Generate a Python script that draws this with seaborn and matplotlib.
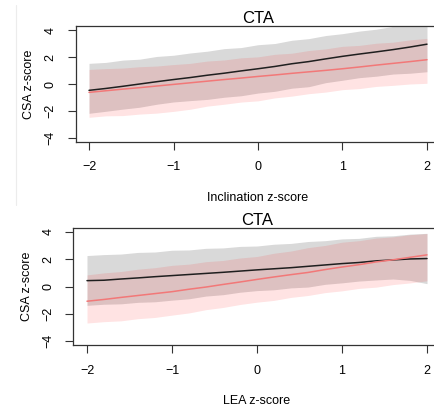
import numpy as np
import matplotlib
matplotlib.use("Agg")
import matplotlib.pyplot as plt
from matplotlib.lines import Line2D
import seaborn as sns

sns.set_style("white")
plt.rcParams['font.family'] = ['Liberation Sans', 'DejaVu Sans']
plt.rcParams['text.color'] = 'black'
plt.rcParams['axes.labelcolor'] = 'black'
plt.rcParams['xtick.color'] = 'black'
plt.rcParams['ytick.color'] = 'black'

# z-score grid
x_vals = [-2.0, -1.8, -1.6, -1.4, -1.2, -1.0, -0.8, -0.6, -0.4, -0.2, 0.0,
          0.2, 0.4, 0.6, 0.8, 1.0, 1.2, 1.4, 1.6, 1.8, 2.0]

# panel 1 : Inclination
incl_black = [-0.47, -0.33, -0.17, 0.00, 0.17, 0.33, 0.48, 0.65, 0.80, 0.97, 1.13,
              1.30, 1.50, 1.66, 1.86, 2.05, 2.22, 2.38, 2.55, 2.74, 2.95]
incl_red = [-0.62, -0.50, -0.38, -0.27, -0.15, -0.03, 0.09, 0.21, 0.33, 0.44, 0.56,
            0.67, 0.79, 0.90, 1.01, 1.13, 1.26, 1.40, 1.53, 1.66, 1.80]
incl_gray_hi = [1.53, 1.60, 1.77, 1.84, 2.04, 2.13, 2.30, 2.43, 2.62, 2.70, 2.91,
                3.00, 3.24, 3.36, 3.59, 3.73, 3.92, 4.06, 4.27, 4.38, 4.52]
incl_gray_lo = [-2.17, -2.02, -1.86, -1.72, -1.50, -1.33, -1.23, -1.14, -0.98, -0.87, -0.67,
                -0.54, -0.31, -0.20, 0.10, 0.28, 0.47, 0.58, 0.74, 0.80, 0.91]
incl_red_hi = [1.08, 1.14, 1.18, 1.28, 1.33, 1.44, 1.53, 1.70, 1.78, 1.94, 2.01,
               2.20, 2.28, 2.48, 2.60, 2.79, 2.86, 3.02, 3.10, 3.27, 3.38]
incl_red_lo = [-2.47, -2.36, -2.34, -2.23, -2.16, -2.03, -1.87, -1.64, -1.50, -1.34, -1.25,
               -1.03, -0.90, -0.72, -0.60, -0.42, -0.34, -0.18, -0.10, 0.00, 0.05]

# panel 2 : LEA
lea_black = [0.43, 0.46, 0.55, 0.63, 0.72, 0.80, 0.88, 0.96, 1.04, 1.13, 1.22,
             1.30, 1.38, 1.48, 1.58, 1.68, 1.76, 1.88, 1.95, 2.02, 2.05]
lea_red = [-1.08, -0.95, -0.80, -0.66, -0.52, -0.38, -0.20, -0.04, 0.15, 0.33, 0.52,
           0.70, 0.87, 1.03, 1.24, 1.43, 1.60, 1.80, 1.96, 2.14, 2.32]
lea_gray_hi = [2.27, 2.34, 2.38, 2.50, 2.53, 2.66, 2.68, 2.80, 2.83, 2.94, 2.97,
               3.10, 3.16, 3.30, 3.36, 3.49, 3.53, 3.68, 3.72, 3.84, 3.90]
lea_gray_lo = [-1.38, -1.30, -1.27, -1.16, -1.12, -1.00, -0.90, -0.70, -0.60, -0.42, -0.30,
               -0.24, -0.10, -0.04, 0.16, 0.27, 0.40, 0.48, 0.55, 0.45, 0.21]
lea_red_hi = [0.85, 1.00, 1.10, 1.27, 1.38, 1.55, 1.64, 1.82, 1.91, 2.09, 2.20,
              2.44, 2.60, 2.85, 3.01, 3.25, 3.36, 3.55, 3.64, 3.80, 3.88]
lea_red_lo = [-2.68, -2.58, -2.52, -2.36, -2.27, -2.10, -1.94, -1.70, -1.54, -1.32, -1.15,
              -1.02, -0.80, -0.66, -0.45, -0.32, -0.14, -0.05, 0.14, 0.26, 0.42]

panels = [
    ("Inclination z-score", incl_black, incl_red, incl_gray_lo, incl_gray_hi, incl_red_lo, incl_red_hi,
     [75.5 / 434, 1 - 142.3 / 408, 365 / 434, 116.6 / 408]),
    ("LEA z-score", lea_black, lea_red, lea_gray_lo, lea_gray_hi, lea_red_lo, lea_red_hi,
     [73.4 / 434, 1 - 345.4 / 408, 367.2 / 434, 117.8 / 408]),
]

fig = plt.figure(figsize=(4.34, 4.08), dpi=100)

for xlab, blk, red, glo, ghi, rlo, rhi, pos in panels:
    ax = fig.add_axes(pos)
    ax.fill_between(x_vals, glo, ghi, color='#d9d9d9', linewidth=0)
    ax.fill_between(x_vals, rlo, rhi, color='#ff0000', alpha=0.11, linewidth=0)
    sns.lineplot(x=x_vals, y=blk, color='#1f1f1f', linewidth=1.1, ax=ax)
    sns.lineplot(x=x_vals, y=red, color='#f27878', linewidth=1.1, ax=ax)
    ax.set_xlim(-2.16, 2.16)
    ax.set_ylim(-4.32, 4.32)
    ax.set_xticks([-2, -1, 0, 1, 2])
    ax.set_yticks([-4, -2, 0, 2, 4])
    ax.tick_params(direction='out', length=5.8, width=0.8, color='#333333',
                   labelsize=9, pad=8, left=True, bottom=True)
    ax.tick_params(axis='y', pad=8)
    for lab in ax.get_yticklabels():
        lab.set_rotation(90)
        lab.set_va('center')
    for sp in ax.spines.values():
        sp.set_color('#333333')
        sp.set_linewidth(0.9)
    ax.set_title('CTA', fontsize=12, pad=2)
    ax.set_xlabel(xlab, fontsize=9, labelpad=13)
    ax.set_ylabel('CSA z-score', fontsize=9, labelpad=7)

# faint screenshot border on the left
fig.add_artist(Line2D([16 / 434, 16 / 434], [1 - 5 / 408, 1 - 205 / 408], color='#ececec', lw=0.8))

fig.savefig('out.png', dpi=100)
